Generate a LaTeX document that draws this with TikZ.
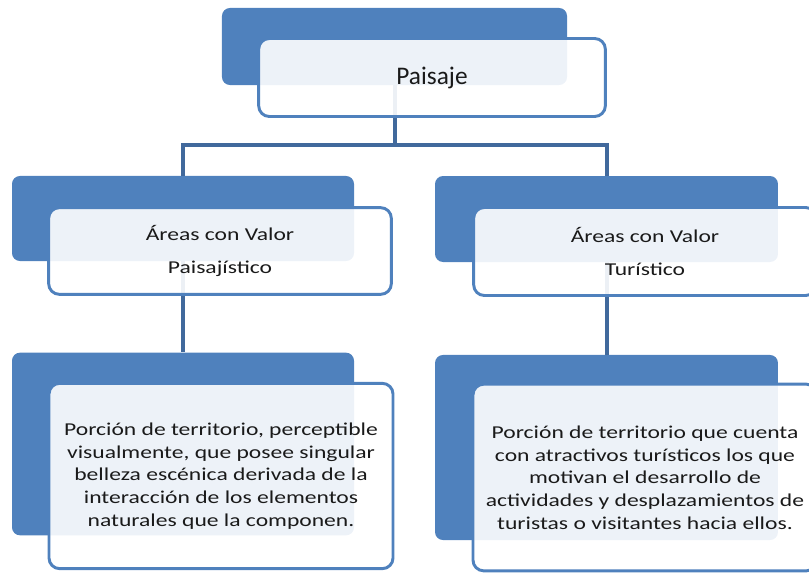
\documentclass[tikz,border=0pt]{standalone}
\usepackage{fontspec}
\setmainfont{Carlito}
\newfontfamily\widefont{Carlito}[FakeStretch=1.3]
\definecolor{BoxBlue}{HTML}{4F81BD}
\definecolor{LinkBlue}{HTML}{41699C}
\definecolor{InkGray}{HTML}{1A1A1A}
\usetikzlibrary{positioning}

\tikzset{
  backbox/.style={fill=BoxBlue, rounded corners=6pt, inner sep=0pt},
  frontbox/.style={draw=BoxBlue, line width=2.2pt, fill=white, fill opacity=0.9,
                   text opacity=1, text=InkGray, rounded corners=8pt, align=center, inner sep=0pt},
  link/.style={draw=LinkBlue, line width=3pt},
}

\begin{document}
\begin{tikzpicture}[x=0.75pt, y=-0.75pt]
  \path[use as bounding box, clip] (0,0) rectangle (809,574);

  % back boxes
  \node[backbox, minimum width=258.8pt, minimum height=57.8pt] (paisajeback) at (394.5,46.5) {};
  \node[backbox, minimum width=256.5pt, minimum height=63.8pt] (valorpback) at (183,218.5) {};
  \node[backbox, minimum width=257.2pt, minimum height=64.5pt] (valortback) at (606.5,219) {};
  \node[backbox, minimum width=256.5pt, minimum height=137pt] (defpback) at (183,444) {};
  \node[backbox, minimum width=257.2pt, minimum height=138.8pt] (deftback) at (606.5,447.5) {};

  % connectors
  \draw[link] (paisajeback.south) -- ++(0,60) -| (valorpback.north);
  \draw[link] (paisajeback.south) -- ++(0,60) -| (valortback.north);
  \draw[link] (valorpback.south) -- (defpback.north);
  \draw[link] (valortback.south) -- (deftback.north);

  % front boxes
  \node[frontbox, minimum width=260pt, minimum height=58.5pt,
        font=\fontsize{19}{23}\selectfont] (paisaje) at (432,77.5) {Paisaje};
  \node[frontbox, minimum width=257pt, minimum height=65pt,
        font=\widefont\fontsize{13.6}{25}\selectfont] (valorp) at (220,251)
        {Áreas con Valor\\Paisajístico};
  \node[frontbox, minimum width=257pt, minimum height=66pt,
        font=\widefont\fontsize{13.6}{25}\selectfont] (valort) at (645,251.5)
        {Áreas con Valor\\Turístico};
  \node[frontbox, minimum width=258pt, minimum height=139pt,
        font=\widefont\fontsize{13.6}{17}\selectfont] (defp) at (221,476)
        {Porción de territorio, perceptible\\visualmente, que posee singular\\belleza escénica derivada de la\\interacción de los elementos\\naturales que la componen.};
  \node[frontbox, minimum width=258pt, minimum height=140pt,
        font=\widefont\fontsize{13.6}{17}\selectfont] (deft) at (645,477.5)
        {Porción de territorio que cuenta\\con atractivos turísticos los que\\motivan el desarrollo de\\actividades y desplazamientos de\\turistas o visitantes hacia ellos.};
\end{tikzpicture}
\end{document}
